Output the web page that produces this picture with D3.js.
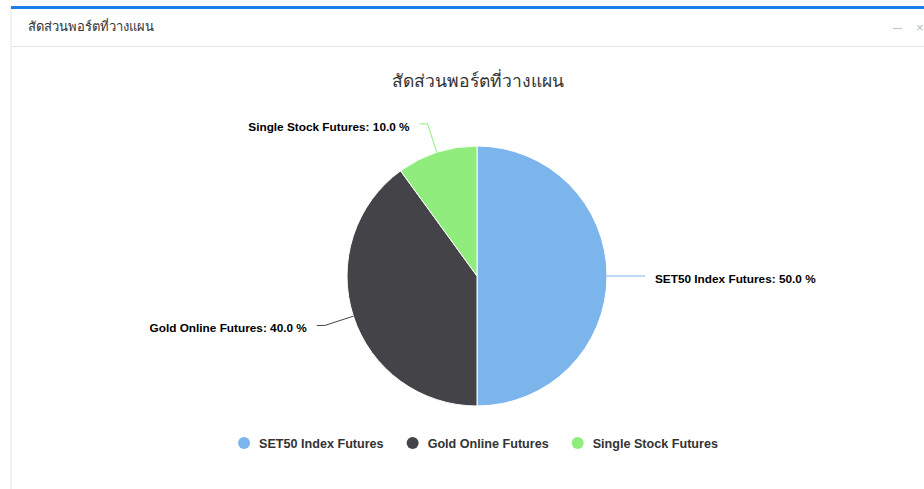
<!DOCTYPE html>
<html><head><meta charset="utf-8">
<script src="https://cdn.jsdelivr.net/npm/d3@7"></script>
<style>
html,body{margin:0;padding:0;background:#fff;}
svg{display:block;}
</style></head>
<body>
<svg id="c" width="924" height="489"></svg>
<script>
const panelTitle = "สัดส่วนพอร์ตที่วางแผน";
const chartTitle = "สัดส่วนพอร์ตที่วางแผน";
const categories = ["SET50 Index Futures", "Gold Online Futures", "Single Stock Futures"];
const values = [50.0, 40.0, 10.0];
const colors = ["#7cb5ec", "#434348", "#90ed7d"];

const svg = d3.select("#c");
const font = "'Liberation Sans', Arial, sans-serif";

// panel
svg.append("rect").attr("x",11).attr("y",7).attr("width",930).attr("height",500)
  .attr("fill","#fff").attr("stroke","#e6e6e6").attr("stroke-width",1);
svg.append("rect").attr("x",11).attr("y",6).attr("width",930).attr("height",3).attr("fill","#1a7ee6");
svg.append("line").attr("x1",12).attr("x2",924).attr("y1",46.5).attr("y2",46.5).attr("stroke","#e3e3e3");
svg.append("text").attr("x",28).attr("y",31).attr("font-family","'Noto Sans', "+font).attr("font-size",13)
  .attr("fill","#333").text(panelTitle);
svg.append("line").attr("x1",893).attr("x2",902).attr("y1",28.5).attr("y2",28.5).attr("stroke","#c8c8c8").attr("stroke-width",1.2);
svg.append("text").attr("x",916).attr("y",32).attr("font-family",font).attr("font-size",13).attr("fill","#bbb").text("×");

// title
svg.append("text").attr("x",478).attr("y",87).attr("text-anchor","middle")
  .attr("font-family","'Noto Sans', "+font).attr("font-size",17.5).attr("fill","#333").text(chartTitle);

// pie
const cx = 477, cy = 276, r = 130, dist = 30;
const data = categories.map((c,i)=>({name:c, value:values[i], color:colors[i]}));
const pie = d3.pie().value(d=>d.value).sort(null);
const arcs = pie(data);
const arc = d3.arc().innerRadius(0).outerRadius(r);
const g = svg.append("g").attr("transform",`translate(${cx},${cy})`);
g.selectAll("path.slice").data(arcs).enter().append("path")
  .attr("d",arc).attr("fill",d=>d.data.color).attr("stroke","#fff").attr("stroke-width",1);

// labels
arcs.forEach(a=>{
  const m = (a.startAngle + a.endAngle)/2;
  const dx = Math.sin(m), dy = -Math.cos(m);
  const right = dx >= 0;
  const p0 = [dx*r, dy*r];
  const p1 = [dx*(r+dist), dy*(r+dist)];
  const p2 = [p1[0] + (right?8:-8), p1[1]];
  g.append("path").attr("d", d3.line()([p0,p1,p2]))
    .attr("fill","none").attr("stroke",a.data.color).attr("stroke-width",1).attr("stroke-linejoin","round");
  g.append("text").attr("x", p2[0] + (right?10:-10)).attr("y", p2[1]+7)
    .attr("text-anchor", right?"start":"end")
    .attr("font-family",font).attr("font-size",11.8).attr("font-weight","bold").attr("fill","#000")
    .attr("stroke","#fff").attr("stroke-width",2).attr("paint-order","stroke")
    .text(`${a.data.name}: ${a.data.value.toFixed(1)} %`);
});

// legend
const lg = svg.append("g");
let x = 0;
data.forEach(d=>{
  const it = lg.append("g").attr("transform",`translate(${x},0)`);
  it.append("circle").attr("cx",6).attr("cy",0).attr("r",6).attr("fill",d.color);
  const t = it.append("text").attr("x",21).attr("y",4.5).attr("font-family",font).attr("font-size",12.6)
    .attr("font-weight","bold").attr("fill","#333").text(d.name);
  x += 21 + t.node().getComputedTextLength() + 23;
});
const total = x - 23;
lg.attr("transform",`translate(${478 - total/2},443)`);
</script>
</body></html>
